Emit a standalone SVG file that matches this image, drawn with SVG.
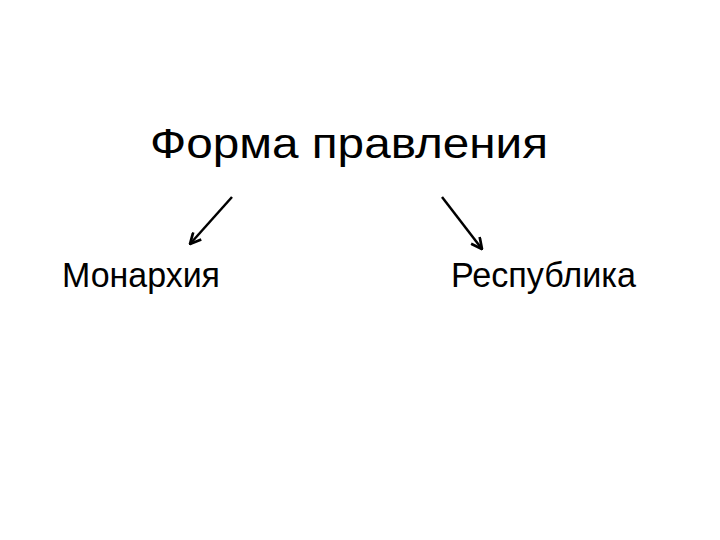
<svg xmlns="http://www.w3.org/2000/svg" width="720" height="540" viewBox="0 0 720 540">
<style>
text{font-family:"Liberation Sans",Arial,sans-serif;fill:#000}
.t{font-size:43px}
.n{font-size:34.5px}
.c{stroke:#000;stroke-width:2.5;fill:none}
</style>
<defs>
<marker id="a" viewBox="0 0 12 12" refX="11" refY="6" markerWidth="13" markerHeight="13" orient="auto" markerUnits="userSpaceOnUse"><path d="M1,1 L11,6 L1,11" fill="none" stroke="#000" stroke-width="2.5"/></marker>
</defs>
<rect width="720" height="540" fill="#fff"/>
<g id="root"><text class="t" x="150" y="158" textLength="398" lengthAdjust="spacingAndGlyphs">Форма правления</text></g>
<g id="monarchy"><text class="n" x="62" y="287" textLength="158" lengthAdjust="spacingAndGlyphs">Монархия</text></g>
<g id="republic"><text class="n" x="451" y="287" textLength="185" lengthAdjust="spacingAndGlyphs">Республика</text></g>
<g id="connectors">
<path class="c" d="M232,197 L190,244" marker-end="url(#a)"/>
<path class="c" d="M442,197 L482,249" marker-end="url(#a)"/>
</g>
</svg>
